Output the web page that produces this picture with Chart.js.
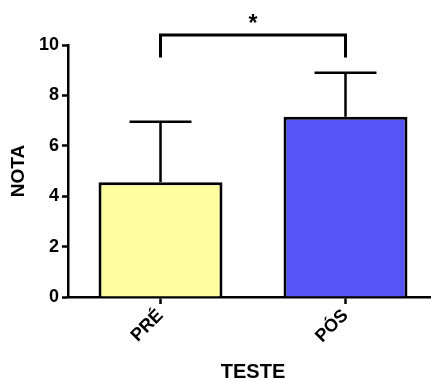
<!DOCTYPE html>
<html lang="pt">
<head>
  <meta charset="UTF-8">
  <title>Nota pré e pós teste</title>
  <script src="https://cdn.jsdelivr.net/npm/chart.js"></script>
  <style>
    html, body {
      margin: 0;
      padding: 0;
      background: #fff;
      overflow: hidden;
    }
    /* the axis runs a little past the right edge in the original */
    .wrap {
      width: 438px;
      height: 379px;
      position: relative;
    }
  </style>
</head>
<body>
<div class="wrap">
  <canvas id="notaChart"></canvas>
</div>

<script>
  // data
  const categories = ['PRÉ', 'PÓS'];
  const means = [4.55, 7.15];
  const sdUpper = [2.4, 1.75];
  const barColors = ['#ffffa0', '#5555f7'];
  const bracketTop = 10.4;
  const bracketDrop = 9.5;
  const sigMark = '*';

  const FONT = "'Liberation Sans', Arial, sans-serif";

  // upper error bars + significance bracket
  const extrasPlugin = {
    id: 'extras',
    afterDatasetsDraw(chart) {
      const ctx = chart.ctx;
      const x = chart.scales.x;
      const y = chart.scales.y;
      const meta = chart.getDatasetMeta(0);

      ctx.save();
      ctx.strokeStyle = '#000';
      ctx.lineWidth = 2.5;
      ctx.lineCap = 'butt';

      meta.data.forEach((bar, i) => {
        const cx = bar.x;
        const yTop = y.getPixelForValue(means[i] + sdUpper[i]);
        const yMean = y.getPixelForValue(means[i]);
        const half = bar.width / 4;
        ctx.beginPath();
        ctx.moveTo(cx, yMean);
        ctx.lineTo(cx, yTop);
        ctx.moveTo(cx - half, yTop);
        ctx.lineTo(cx + half, yTop);
        ctx.stroke();
      });

      const x1 = x.getPixelForValue(0);
      const x2 = x.getPixelForValue(1);
      const yb = y.getPixelForValue(bracketTop);
      const yd = y.getPixelForValue(bracketDrop);
      ctx.lineWidth = 3;
      ctx.beginPath();
      ctx.moveTo(x1, yd);
      ctx.lineTo(x1, yb);
      ctx.lineTo(x2, yb);
      ctx.lineTo(x2, yd);
      ctx.stroke();

      ctx.fillStyle = '#000';
      ctx.font = 'bold 23px ' + FONT;
      ctx.textAlign = 'center';
      ctx.textBaseline = 'middle';
      ctx.fillText(sigMark, (x1 + x2) / 2, yb - 10);
      ctx.restore();
    }
  };

  const ctx = document.getElementById('notaChart').getContext('2d');
  const notaChart = new Chart(ctx, {
    type: 'bar',
    data: {
      labels: categories,
      datasets: [{
        data: means,
        backgroundColor: barColors,
        borderColor: '#000',
        borderWidth: 3,
        borderSkipped: 'bottom',
        barPercentage: 0.67,
        categoryPercentage: 1
      }]
    },
    options: {
      responsive: true,
      maintainAspectRatio: false,
      animation: false,
      layout: {
        padding: { top: 45, right: 0, bottom: 0, left: 0 }
      },
      plugins: {
        legend: { display: false },
        tooltip: { enabled: false }
      },
      scales: {
        x: {
          afterFit: (scale) => { scale.height = 82; },
          grid: {
            offset: false,
            drawOnChartArea: false,
            tickLength: 7,
            tickWidth: 2.5,
            tickColor: '#000'
          },
          border: { color: '#000', width: 2.5 },
          ticks: {
            color: '#000',
            font: { family: FONT, size: 18, weight: 'bold' },
            minRotation: 45,
            maxRotation: 45,
            padding: 1
          },
          title: {
            display: true,
            text: 'TESTE',
            color: '#000',
            font: { family: FONT, size: 20, weight: 'bold' },
            padding: { top: 0, bottom: -5 }
          }
        },
        y: {
          min: 0,
          max: 10,
          afterFit: (scale) => { scale.width = 68; },
          grid: {
            drawOnChartArea: false,
            tickLength: 6,
            tickWidth: 2.5,
            tickColor: '#000'
          },
          border: { color: '#000', width: 2.5 },
          ticks: {
            stepSize: 2,
            color: '#000',
            font: { family: FONT, size: 18, weight: 'bold' },
            padding: 3
          },
          title: {
            display: true,
            text: 'NOTA',
            color: '#000',
            font: { family: FONT, size: 19, weight: 'bold' },
            padding: { top: 7, bottom: 0 }
          }
        }
      }
    },
    plugins: [extrasPlugin]
  });
</script>
</body>
</html>
